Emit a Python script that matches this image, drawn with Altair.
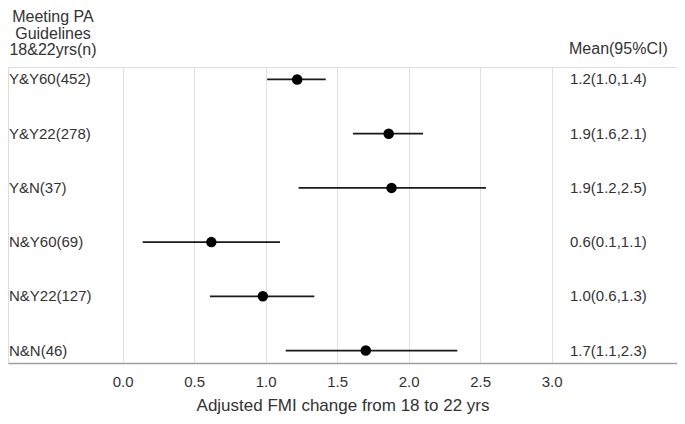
import altair as alt
import pandas as pd

groups = ["Y&Y60(452)", "Y&Y22(278)", "Y&N(37)", "N&Y60(69)", "N&Y22(127)", "N&N(46)"]
means = [1.22, 1.86, 1.88, 0.62, 0.98, 1.70]
lower = [1.01, 1.61, 1.23, 0.14, 0.61, 1.14]
upper = [1.42, 2.10, 2.54, 1.10, 1.34, 2.34]
ci_labels = ["1.2(1.0,1.4)", "1.9(1.6,2.1)", "1.9(1.2,2.5)", "0.6(0.1,1.1)", "1.0(0.6,1.3)", "1.7(1.1,2.3)"]
x_ticks = [0.0, 0.5, 1.0, 1.5, 2.0, 2.5, 3.0]
left_header = ["Meeting PA", "Guidelines", "18&22yrs(n)"]
right_header = "Mean(95%CI)"
x_title = "Adjusted FMI change from 18 to 22 yrs"

df = pd.DataFrame({"group": groups, "mean": means, "lo": lower, "hi": upper, "ci": ci_labels})

FONT = "Liberation Sans"
FS = 15
HFS = 16
TFS = 17
TXT = "#333333"

xscale = alt.Scale(domain=[-0.8021, 3.8762], nice=False, zero=False)
yenc = alt.Y("group:N", sort=groups, scale=alt.Scale(type="point", padding=0.23), axis=None)

base = alt.Chart(df)

rules = base.mark_rule(color="#1a1a1a", strokeWidth=1.8).encode(
    x=alt.X("lo:Q", scale=xscale,
            axis=alt.Axis(values=x_ticks, format=".1f", title=x_title, grid=True,
                          gridColor="#e0e0e0", gridWidth=1, ticks=False,
                          domainColor="#a0a0a0", domainWidth=1.3,
                          labelFont=FONT, labelFontSize=FS, labelColor=TXT, labelPadding=11,
                          titleFont=FONT, titleFontSize=TFS, titleColor=TXT,
                          titleFontWeight="normal", titlePadding=8)),
    x2="hi:Q",
    y=yenc,
)

points = base.mark_circle(color="#000000", opacity=1, size=110).encode(
    x=alt.X("mean:Q", scale=xscale), y=yenc
)

left_text = base.mark_text(align="left", baseline="middle", font=FONT, fontSize=FS, color=TXT).encode(
    x=alt.value(1), y=yenc, text="group:N"
)

right_text = base.mark_text(align="left", baseline="middle", font=FONT, fontSize=FS, color=TXT).encode(
    x=alt.value(562), y=yenc, text="ci:N"
)

hdr_left = alt.Chart(pd.DataFrame({"t": left_header, "yy": [-50, -33.5, -17]})).mark_text(
    align="center", baseline="middle", font=FONT, fontSize=HFS, color=TXT
).encode(x=alt.value(45), y=alt.Y("yy:Q", scale=None), text="t:N")

hdr_right = alt.Chart(pd.DataFrame({"t": [right_header]})).mark_text(
    align="left", baseline="middle", font=FONT, fontSize=HFS, color=TXT
).encode(x=alt.value(561), y=alt.value(-18), text="t:N")

chart = alt.layer(rules, points, left_text, right_text, hdr_left, hdr_right).properties(
    width=669, height=296,
    autosize=alt.AutoSizeParams(type="none"),
    padding={"left": 0, "top": 59, "right": 0, "bottom": 53},
).configure_view(stroke=None).configure(background="white")

chart.save("out.html", embed_options={"renderer": "svg", "actions": False})
